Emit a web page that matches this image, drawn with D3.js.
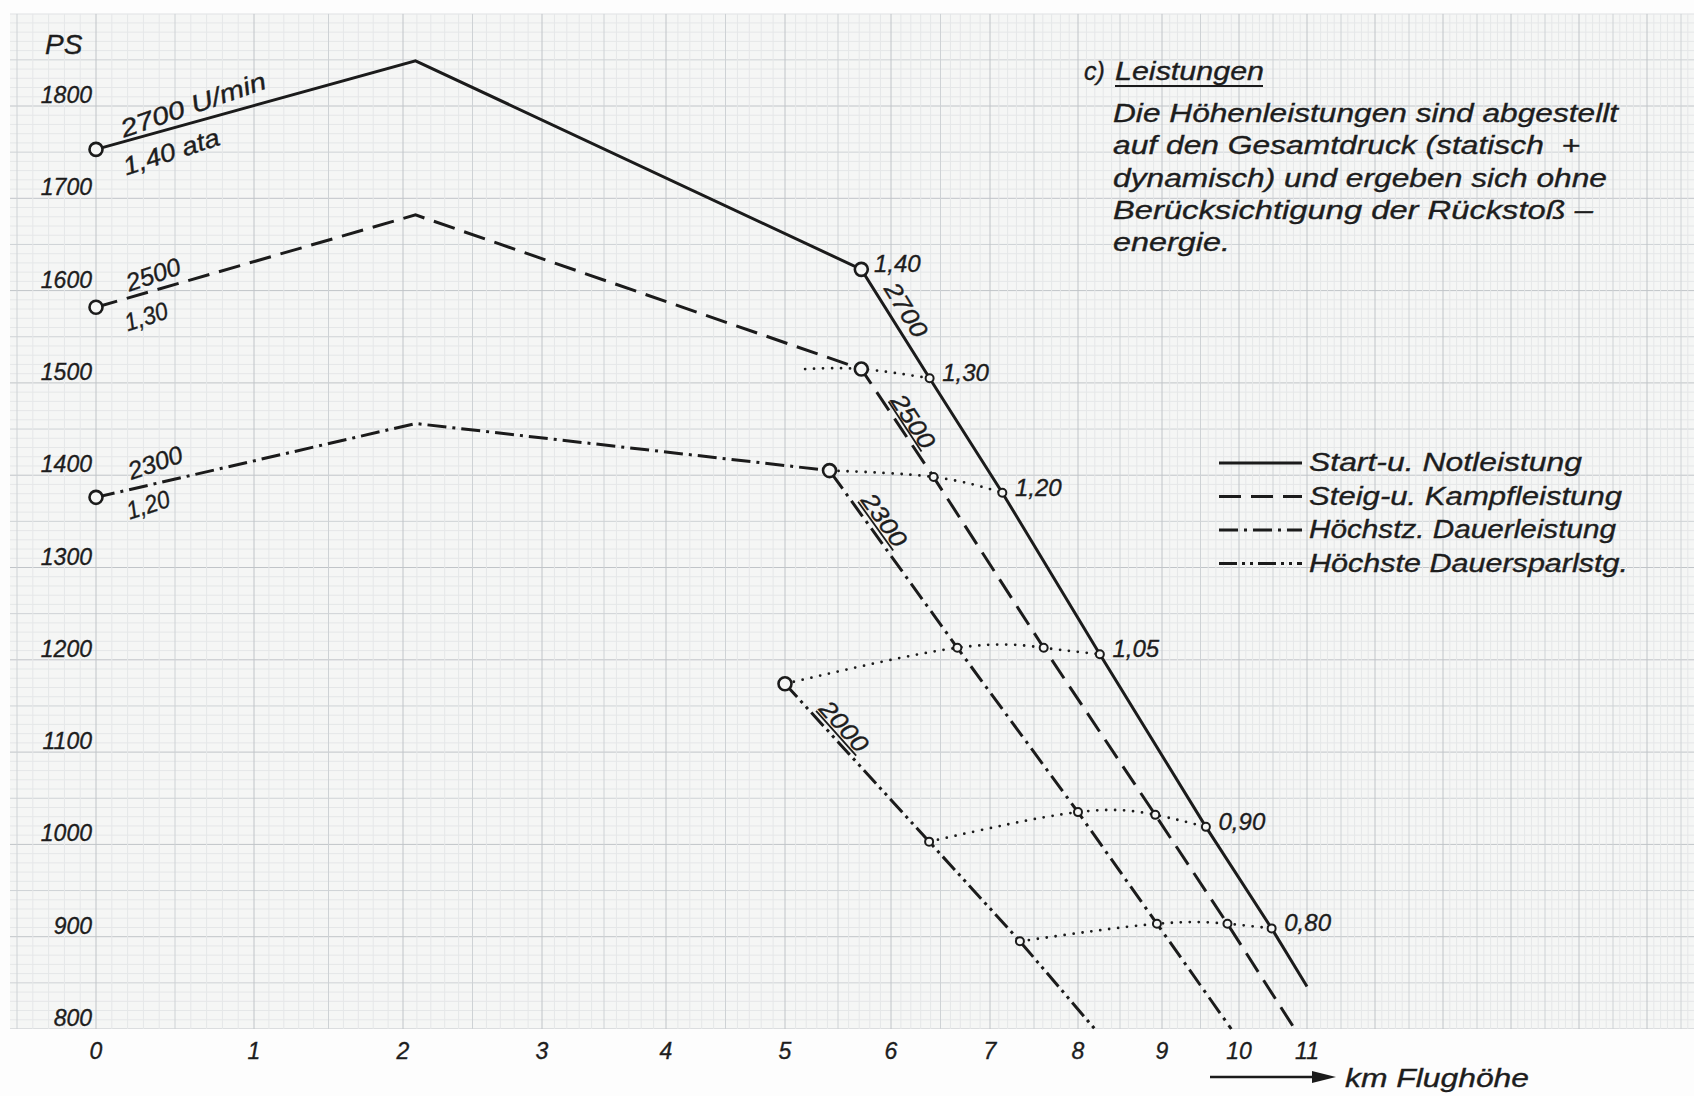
<!DOCTYPE html>
<html lang="de">
<head>
<meta charset="UTF-8">
<title>Leistungen</title>
<script src="https://cdn.jsdelivr.net/npm/d3@7"></script>
<style>
  body { margin: 0; background: #fff; }
  text { font-family: "Liberation Sans", Arial, sans-serif; font-style: italic; fill: #1d1d1d; stroke: #1d1d1d; stroke-width: 0.35; }
</style>
</head>
<body>
<script>
// Flughöhe [km], Leistung [PS]
var startNot   = [[0,1753],[2.09,1849],[5.72,1623],[6.39,1505],[7.14,1381],[8.26,1206],[9.57,1019],[10.48,909],[11.0,846]];
var steigKampf = [[0,1582],[2.09,1682],[5.72,1515],[6.43,1398],[7.61,1213],[8.92,1032],[9.85,914],[10.82,800]];
var dauer      = [[0,1376],[2.09,1456],[5.42,1405],[6.67,1213],[8.0,1035],[8.94,914],[9.9,800]];
var dauerSpar  = [[5.0,1174],[6.385,1003],[7.34,895],[8.2,800]];

// Linien gleichen Ladedrucks (ata)
var ata130 = [[5.19,1515],[5.72,1515],[6.39,1505]];
var ata120 = [[5.42,1405],[6.43,1398],[7.14,1381]];
var ata105 = [[5.0,1174],[6.67,1213],[7.61,1213],[8.26,1206]];
var ata090 = [[6.385,1003],[8.0,1035],[8.92,1032],[9.57,1019]];
var ata080 = [[7.34,895],[8.94,914],[9.85,914],[10.48,909]];

var ataLabels = ["1,30","1,20","1,05","0,90","0,80"];
var rpmLabels = ["2700","2500","2300","2000"];
var startAta  = ["1,40 ata","1,30","1,20"];
var legendNames = ["Start-u. Notleistung","Steig-u. Kampfleistung","Höchstz. Dauerleistung","Höchste Dauersparlstg."];

var kmTicks = [0,1,2,3,4,5,6,7,8,9,10,11];
var psTicks = [800,900,1000,1100,1200,1300,1400,1500,1600,1700,1800];

var textLines = [
  "Die Höhenleistungen sind abgestellt",
  "auf den Gesamtdruck (statisch\u00a0\u00a0+",
  "dynamisch) und ergeben sich ohne",
  "Berücksichtigung der Rückstoß \u2013",
  "energie."
];

// ---- scales (x axis of the original paper is not linear)
var kmX = [96,254,403,542,666,785,891,990,1078,1162,1239,1307];
var x = d3.scaleLinear().domain(kmTicks).range(kmX);
var y = d3.scaleLinear().domain([800,1900]).range([1029,13.7]);

var ink = "#1b1b1b", paper = "#f5f6f5";

var svg = d3.select("body").append("svg")
    .attr("width",1694).attr("height",1096);

svg.append("rect").attr("width",1694).attr("height",1096).attr("fill","#fdfdfd");
svg.append("rect")
    .attr("x",10).attr("y",y(1900))
    .attr("width",1684).attr("height",y(800)-y(1900))
    .attr("fill",paper);

svg.append("clipPath").attr("id","paper")
  .append("rect")
    .attr("x",10).attr("y",y(1900))
    .attr("width",1684).attr("height",y(800)-y(1900));

// ---- graph paper
var grid = svg.append("g").attr("clip-path","url(#paper)");

function gridColor(major, mid) {
  return major ? "#c0c4c8" : mid ? "#ced2d5" : "#e5e7e8";
}

grid.selectAll(".h").data(d3.range(800,1901,10)).enter()
  .append("line")
    .attr("x1",10).attr("x2",1694)
    .attr("y1",function(d){return y(d);}).attr("y2",function(d){return y(d);})
    .attr("stroke",function(d){return gridColor(d%100==0, d%50==0);})
    .attr("stroke-width",1);

grid.selectAll(".v").data(d3.range(-9,175)).enter()
  .append("line")
    .attr("x1",function(d){return x(d/10);}).attr("x2",function(d){return x(d/10);})
    .attr("y1",y(1900)).attr("y2",y(800))
    .attr("stroke",function(d){return gridColor(d%10==0, d%5==0);})
    .attr("stroke-width",1);

// ---- axes text
svg.append("text").attr("x",45).attr("y",54).attr("font-size",28).text("PS");

svg.selectAll(".ytick").data(psTicks).enter()
  .append("text")
    .attr("x",92).attr("y",function(d){return y(d)-3;})
    .attr("text-anchor","end").attr("font-size",23)
    .text(function(d){return d;});

svg.selectAll(".xtick").data(kmTicks).enter()
  .append("text")
    .attr("x",function(d){return x(d);}).attr("y",1059)
    .attr("text-anchor","middle").attr("font-size",23)
    .text(function(d){return d;});

svg.append("line").attr("x1",1210).attr("x2",1318).attr("y1",1077).attr("y2",1077)
    .attr("stroke",ink).attr("stroke-width",2.4);
svg.append("path").attr("d","M1312,1071 L1336,1077 L1312,1083 Z").attr("fill",ink);
svg.append("text").attr("x",1345).attr("y",1087).attr("font-size",25)
    .attr("textLength",184).attr("lengthAdjust","spacingAndGlyphs").text("km Flughöhe");

// ---- curves
var line = d3.line().x(function(d){return x(d[0]);}).y(function(d){return y(d[1]);});
var series = [startNot, steigKampf, dauer, dauerSpar];
var dashes = [null, "22 10", "19 6 3 6", "18 5 3 5 3 5"];

// isobars (dotted)
var isobars = [ata130, ata120, ata105, ata090, ata080];
var smooth = d3.line().x(function(d){return x(d[0]);}).y(function(d){return y(d[1]);})
    .curve(d3.curveNatural);
svg.selectAll(".iso").data(isobars).enter()
  .append("path")
    .attr("d",smooth)
    .attr("fill","none").attr("stroke",ink)
    .attr("stroke-width",2.8).attr("stroke-linecap","round")
    .attr("stroke-dasharray","0 9");

svg.selectAll(".series").data(series).enter()
  .append("path")
    .attr("d",line)
    .attr("fill","none").attr("stroke",ink)
    .attr("stroke-width",3)
    .attr("stroke-dasharray",function(d,i){return dashes[i];});

// markers
var bigPts = [startNot[0], steigKampf[0], dauer[0], startNot[2], steigKampf[2], dauer[2], dauerSpar[0]];
var smallPts = [].concat(ata130.slice(2), ata120.slice(1), ata105.slice(1), ata090, ata080);

svg.selectAll(".small").data(smallPts).enter()
  .append("circle")
    .attr("cx",function(d){return x(d[0]);}).attr("cy",function(d){return y(d[1]);})
    .attr("r",4).attr("fill",paper).attr("stroke",ink).attr("stroke-width",2);

svg.selectAll(".big").data(bigPts).enter()
  .append("circle")
    .attr("cx",function(d){return x(d[0]);}).attr("cy",function(d){return y(d[1]);})
    .attr("r",6.5).attr("fill",paper).attr("stroke",ink).attr("stroke-width",2.6);

// ---- annotations
// ata at the solid line
var ataEnds = [startNot[2]].concat(isobars.map(function(a){return a[a.length-1];}));
svg.selectAll(".ata").data(ataEnds).enter()
  .append("text")
    .attr("x",function(d){return x(d[0])+36;})
    .attr("y",function(d){return y(d[1])+3;})
    .attr("text-anchor","middle").attr("font-size",24)
    .text(function(d,i){return ["1,40"].concat(ataLabels)[i];});

// rpm along the falling branches
var corners = [[startNot,2,58,17],[steigKampf,2,72,15],[dauer,2,72,16],[dauerSpar,0,71,16]];
corners.forEach(function(c,i){
  var s = c[0], a = s[c[1]], b = s[s.length-1];
  var ax = x(a[0]), ay = y(a[1]), bx = x(b[0]), by = y(b[1]);
  var ang = Math.atan2(by-ay, bx-ax);
  var co = Math.cos(ang), si = Math.sin(ang);
  var cx = ax + c[2]*co + c[3]*si;
  var cy = ay + c[2]*si - c[3]*co;
  svg.append("text")
      .attr("transform","translate("+cx+","+cy+") rotate("+(ang*180/Math.PI)+")")
      .attr("text-anchor","middle").attr("dy","0.36em").attr("font-size",24)
      .attr("textLength",60).attr("lengthAdjust","spacingAndGlyphs")
      .text(rpmLabels[i]);
  if (i > 0) {
    // underline between figure and curve
    var ux = ax + c[2]*co + 5*si, uy = ay + c[2]*si - 5*co;
    svg.append("line")
        .attr("x1",ux-30*co).attr("y1",uy-30*si)
        .attr("x2",ux+30*co).attr("y2",uy+30*si)
        .attr("stroke",ink).attr("stroke-width",1.8);
  }
});

// labels at the start of the curves
var startSeries = [startNot, steigKampf, dauer];
var upperOff = [[97,-45],[57,-33],[59,-35]];
var lowerOff = [[75,2],[50,9],[52,7]];
var upperText = ["2700 U/min","2500","2300"];
var upperLen = [152,56,56];
var lowerLen = [100,44,44];
startSeries.forEach(function(s,i){
  var px = x(s[0][0]), py = y(s[0][1]);
  svg.append("text")
      .attr("transform","translate("+(px+upperOff[i][0])+","+(py+upperOff[i][1])+") rotate(-19)")
      .attr("text-anchor","middle").attr("dy","0.36em").attr("font-size",25)
      .attr("textLength",upperLen[i]).attr("lengthAdjust","spacingAndGlyphs")
      .text(upperText[i]);
  svg.append("text")
      .attr("transform","translate("+(px+lowerOff[i][0])+","+(py+lowerOff[i][1])+") rotate(-18)")
      .attr("text-anchor","middle").attr("dy","0.36em").attr("font-size",25)
      .attr("textLength",lowerLen[i]).attr("lengthAdjust","spacingAndGlyphs")
      .text(startAta[i]);
});

// ---- title block
svg.append("text").attr("x",1084).attr("y",80).attr("font-size",25).text("c)");
svg.append("text").attr("x",1115).attr("y",80).attr("font-size",25)
    .attr("textLength",149).attr("lengthAdjust","spacingAndGlyphs")
    .text("Leistungen");
svg.append("line").attr("x1",1115).attr("x2",1263).attr("y1",86).attr("y2",86)
    .attr("stroke",ink).attr("stroke-width",2);

var lineLen = [505,467,494,480,117];
svg.selectAll(".para").data(textLines).enter()
  .append("text")
    .attr("x",1113).attr("y",function(d,i){return 122+i*32.3;})
    .attr("font-size",25)
    .attr("textLength",function(d,i){return lineLen[i];})
    .attr("lengthAdjust","spacingAndGlyphs")
    .text(function(d){return d;});

// ---- legend
var legLen = [273,313,307,319];
var leg = svg.selectAll(".leg").data(legendNames).enter()
  .append("g")
    .attr("transform",function(d,i){return "translate(1219,"+(463+i*33.5)+")";});
leg.append("line")
    .attr("x1",0).attr("x2",83).attr("y1",0).attr("y2",0)
    .attr("stroke",ink).attr("stroke-width",3)
    .attr("stroke-dasharray",function(d,i){return dashes[i];});
leg.append("text")
    .attr("x",90).attr("y",8).attr("font-size",25)
    .attr("textLength",function(d,i){return legLen[i];})
    .attr("lengthAdjust","spacingAndGlyphs")
    .text(function(d){return d;});
</script>
</body>
</html>
